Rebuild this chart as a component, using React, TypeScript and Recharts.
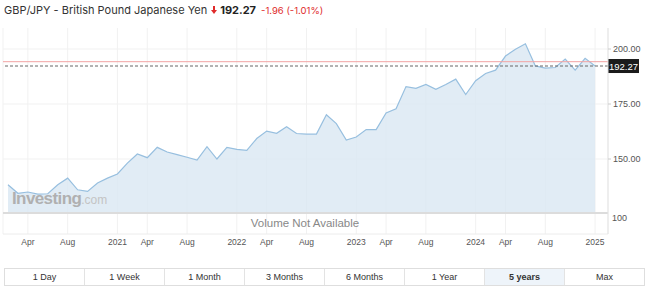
import React from "react";
import {
  ComposedChart,
  Area,
  XAxis,
  YAxis,
  CartesianGrid,
  ReferenceLine,
} from "recharts";

// Monthly GBP/JPY closes, Feb 2020 .. Jan 2025
const closes = [
  138.3, 134.4, 135.0, 134.0, 134.2, 138.3, 141.3, 136.0, 135.3, 139.1,
  141.3, 143.2, 148.1, 152.3, 150.6, 155.3, 153.2, 152.0, 150.8, 149.5,
  155.6, 150.0, 155.3, 154.4, 153.9, 159.3, 162.7, 161.7, 164.7, 161.6,
  161.3, 161.3, 170.1, 166.1, 158.6, 160.0, 163.4, 163.4, 170.9, 172.8,
  182.9, 182.1, 183.9, 181.7, 183.9, 186.3, 179.3, 185.6, 188.9, 190.4,
  196.8, 199.9, 202.4, 192.3, 191.3, 191.6, 195.4, 190.4, 195.8, 192.27,
];

// month index counted from Jan 2020 = 0
const tickMonths = [3, 7, 12, 15, 19, 24, 27, 31, 36, 39, 43, 48, 51, 55, 60];
const tickLabels = [
  "Apr", "Aug", "2021", "Apr", "Aug", "2022", "Apr", "Aug",
  "2023", "Apr", "Aug", "2024", "Apr", "Aug", "2025",
];
const priceTicks = [150, 175, 200];
const ranges = ["1 Day", "1 Week", "1 Month", "3 Months", "6 Months", "1 Year", "5 years", "Max"];

const last = 192.27;
const prevClose = 194.23;
const paneBase = 125.45;

const data = closes.map((v, i) => ({ m: i + 1, v }));

const FONT = "'Liberation Sans', Arial, sans-serif";

function PriceTag(props: any) {
  const { viewBox } = props;
  const x = viewBox.x + viewBox.width;
  const y = viewBox.y;
  return (
    <g>
      <rect x={x} y={y - 7} width={31} height={14} fill="#1b1b1b" />
      <text x={x + 15.5} y={y + 3.5} textAnchor="middle" fill="#fff" fontSize={9.5} fontFamily={FONT}>
        {last.toFixed(2)}
      </text>
    </g>
  );
}

export default function App() {
  return (
    <div style={{ position: "absolute", left: 0, top: 0, width: 650, height: 290, background: "#fff", fontFamily: FONT }}>
      <div style={{ position: "absolute", left: 4, top: 3, fontSize: 11, fontFamily: "Inter, sans-serif", color: "#333", whiteSpace: "nowrap", display: "flex", alignItems: "center" }}>
        <span>GBP/JPY - British Pound Japanese Yen</span>
        <svg width={6} height={8} style={{ margin: "0 3px 0 4px" }}>
          <path d="M2 0 H4 V4 H6 L3 8 L0 4 H2 Z" fill="#e02b2b" />
        </svg>
        <span style={{ fontWeight: 700, fontSize: 11, color: "#222" }}>192.27</span>
        <span style={{ color: "#e02b2b", fontSize: 9.5, marginLeft: 5 }}>-1.96 (-1.01%)</span>
      </div>

      <div style={{ position: "absolute", left: 0, top: 0 }}>
        <ComposedChart width={650} height={256} data={data} margin={{ top: 28, right: 0, left: 3, bottom: 0 }}>
          <CartesianGrid stroke="#f1f1f1" horizontalValues={priceTicks} />
          <XAxis
            dataKey="m"
            type="number"
            domain={[0.5, 61.3]}
            ticks={tickMonths}
            interval={0}
            tickFormatter={(m: number) => tickLabels[tickMonths.indexOf(m)]}
            tick={{ fontSize: 8.5, fill: "#555", fontFamily: FONT }}
            tickLine={false}
            axisLine={{ stroke: "#ececec" }}
            tickSize={3}
            height={22}
          />
          <YAxis
            orientation="right"
            domain={[115.91, 209.55]}
            ticks={priceTicks}
            allowDataOverflow
            width={42}
            tickFormatter={(v: number) => v.toFixed(2)}
            tick={{ fontSize: 9, fill: "#555", fontFamily: FONT }}
            tickSize={3}
            tickLine={{ stroke: "#ccc" }}
            axisLine={{ stroke: "#e4e4e4" }}
          />
          <Area
            type="linear"
            dataKey="v"
            baseValue={paneBase}
            stroke="#97bfdf"
            strokeWidth={1.2}
            fill="#d9e7f2"
            fillOpacity={0.8}
            isAnimationActive={false}
            dot={false}
            activeDot={false}
          />
          <ReferenceLine y={paneBase} stroke="#dcdcdc" strokeWidth={2} />
          <ReferenceLine y={prevClose} stroke="#f2a3a3" strokeWidth={1} />
          <ReferenceLine y={last} stroke="#666" strokeDasharray="3 2" strokeWidth={1} label={<PriceTag />} />
        </ComposedChart>
      </div>

      <div style={{ position: "absolute", left: 12, top: 189, whiteSpace: "nowrap", color: "#b0b0b0" }}>
        <span style={{ fontSize: 17, fontWeight: 700, letterSpacing: -0.6 }}>Investing</span>
        <span style={{ fontSize: 12, color: "#c4c4c4" }}>.com</span>
      </div>

      <div style={{ position: "absolute", left: 200, width: 210, top: 217, textAlign: "center", fontSize: 11.5, color: "#888" }}>
        Volume Not Available
      </div>
      <div style={{ position: "absolute", left: 612, top: 213, fontSize: 9, color: "#555" }}>100</div>

      <div style={{ position: "absolute", left: 4, top: 268, width: 641, height: 18, display: "flex", border: "1px solid #dedede", boxSizing: "border-box" }}>
        {ranges.map((r, i) => (
          <div
            key={r}
            style={{
              flex: 1,
              textAlign: "center",
              fontSize: 9,
              lineHeight: "16px",
              color: "#333",
              borderLeft: i === 0 ? "none" : "1px solid #e3e3e3",
              background: r === "5 years" ? "#eef4fa" : "#fff",
              fontWeight: r === "5 years" ? 700 : 400,
            }}
          >
            {r}
          </div>
        ))}
      </div>
    </div>
  );
}
